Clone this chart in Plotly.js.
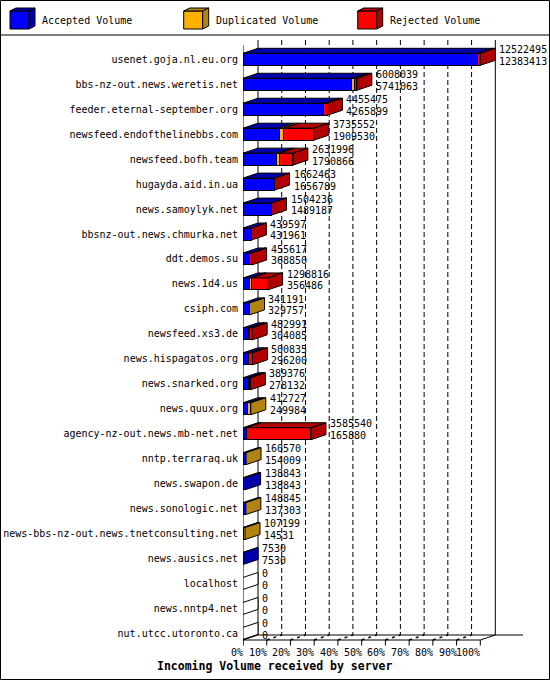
<!DOCTYPE html>
<html><head><meta charset="utf-8">
<script src="https://cdn.plot.ly/plotly-3.0.1.min.js"></script>
<style>html,body{margin:0;padding:0;background:#fff}</style>
</head><body><div id="chart" style="width:550px;height:680px"></div>
<script>
// ---------------- data ----------------
const categories = [
  'usenet.goja.nl.eu.org','bbs-nz-out.news.weretis.net','feeder.eternal-september.org',
  'newsfeed.endofthelinebbs.com','newsfeed.bofh.team','hugayda.aid.in.ua','news.samoylyk.net',
  'bbsnz-out.news.chmurka.net','ddt.demos.su','news.1d4.us','csiph.com','newsfeed.xs3.de',
  'news.hispagatos.org','news.snarked.org','news.quux.org','agency-nz-out.news.mb-net.net',
  'nntp.terraraq.uk','news.swapon.de','news.sonologic.net','news-bbs-nz-out.news.tnetconsulting.net',
  'news.ausics.net','localhost','news.nntp4.net','nut.utcc.utoronto.ca'
];
const totalVolume = [12522495,6008039,4455475,3735552,2631996,1662463,1504236,439597,455617,1298816,
  341191,482991,500835,389376,412727,3585540,160570,138843,148845,107199,7530,0,0,0];
const acceptedVolume = [12383413,5741063,4265899,1909530,1790866,1656789,1489187,431961,368850,356486,
  329757,304085,296200,278132,249984,165880,154009,138843,137303,14531,7530,0,0,0];
const duplicatedVolume = [0,140000,0,248000,140000,0,0,0,0,80000,
  11434,50000,0,60000,162743,0,6561,0,11542,92668,0,0,0,0];
const rejectedVolume = [139082,126976,189576,1578022,701130,5674,15049,7636,86767,862330,
  0,128906,204635,51244,0,3419660,0,0,0,0,0,0,0,0];
const tickPercents = [0,10,20,30,40,50,60,70,80,90,100];
const seriesNames = ['Accepted Volume','Duplicated Volume','Rejected Volume'];

// ---------------- geometry / style ----------------
const W=550,H=680,L=243,R=25,T=36,B=34;
const plotW=W-L-R, plotH=H-T-B;
const maxTotal=Math.max(...totalVolume);
const frontW=237.3;            // px of the 100% front width
const pxX=maxTotal/frontW;     // data units per px
const pitch=24.96;             // px per category
const r0=-(59.3-T)/pitch;
const r1=r0+plotH/pitch;
const yAt=p=>r0+(p-T)/pitch;
const DX=15*pxX, DY=5/pitch, HALF=0.24;
const FONT='DejaVu Sans Mono';
const colors=['#0000ff','#ffb000','#ff0000'];
const darks=['#0000aa','#b08412','#b00000'];
const px=p=>(p-L)/plotW, py=p=>(H-B-p)/plotH;

const idx=categories.map((c,i)=>i);
const seriesVals=[acceptedVolume,duplicatedVolume,rejectedVolume];

const traces=seriesVals.map((v,s)=>({
  type:'bar',orientation:'h',y:idx,x:v,width:2*HALF,name:seriesNames[s],
  marker:{color:colors[s],line:{color:'#000',width:1}},hoverinfo:'skip',showlegend:false
}));

const shapes=[];
const P=pts=>'M'+pts.map(p=>p[0]+','+p[1]).join(' L')+' Z';
// back wall gridlines (dashed)
tickPercents.forEach(k=>{
  const x=k/100*maxTotal;
  if(k>0&&k<100) shapes.push({type:'line',layer:'below',xref:'x',yref:'y',x0:x+DX,x1:x+DX,y0:yAt(40),y1:yAt(635),
    line:{color:'#000',width:1,dash:'5px,3px'}});
  // front ticks
  shapes.push({type:'line',xref:'x',yref:'y',x0:x,x1:x,y0:yAt(640),y1:yAt(645.5),line:{color:'#000',width:1}});
  if(k>0&&k<100) shapes.push({type:'line',xref:'x',yref:'y',x0:x,x1:x+DX,y0:yAt(640),y1:yAt(635),
    line:{color:'#000',width:1.5,dash:'3px,4px'}});
});
// frame
const LN=(x0,y0,x1,y1,layer)=>shapes.push({type:'line',layer:layer||'above',xref:'x',yref:'y',x0,y0,x1,y1,line:{color:'#000',width:1}});
LN(DX,yAt(40),DX,yAt(635),'below');
LN(maxTotal+DX,yAt(40),maxTotal+DX,yAt(635),'below');
LN(DX,yAt(635),(523-L)*pxX,yAt(635),'below');
LN(0,yAt(640),maxTotal,yAt(640));
LN(maxTotal,yAt(640),maxTotal+DX,yAt(635));
LN(0,yAt(640),DX,yAt(635));
LN(0,yAt(45),0,yAt(645.5));

// 3D faces of each bar
categories.forEach((c,i)=>{
  const yt=i-HALF, yb=i+HALF;
  let x=0, last=-1;
  seriesVals.forEach((v,s)=>{
    const w=v[i]; if(w>0){
      shapes.push({type:'path',xref:'x',yref:'y',fillcolor:darks[s],line:{color:'#000',width:1},
        path:P([[x,yt],[x+w,yt],[x+w+DX,yt-DY],[x+DX,yt-DY]])});
      x+=w; last=s;
    }
  });
  shapes.push({type:'path',xref:'x',yref:'y',fillcolor:last<0?'#ffffff':darks[last],line:{color:'#000',width:1},
    path:P([[x,yt],[x+DX,yt-DY],[x+DX,yb-DY],[x,yb]])});
});

// annotations
const annotations=[];
categories.forEach((c,i)=>{
  annotations.push({xref:'x',yref:'y',x:totalVolume[i],y:i,xanchor:'left',yanchor:'middle',xshift:17,yshift:9.8,
    text:String(totalVolume[i]),showarrow:false,font:{family:FONT,size:10,color:'#000'}});
  annotations.push({xref:'x',yref:'y',x:totalVolume[i],y:i,xanchor:'left',yanchor:'middle',xshift:17,yshift:-1.9,
    text:String(acceptedVolume[i]),showarrow:false,font:{family:FONT,size:10,color:'#000'}});
});
tickPercents.forEach(k=>{
  annotations.push({xref:'x',yref:'paper',x:k/100*maxTotal,y:py(652.5),xanchor:'right',yanchor:'middle',xshift:2,
    text:k+'%',showarrow:false,font:{family:FONT,size:10,color:'#000'}});
});
annotations.push({xref:'paper',yref:'paper',x:px(274),y:py(666),xanchor:'center',yanchor:'middle',
  text:'<b>Incoming Volume received by server</b>',showarrow:false,font:{family:FONT,size:11.5,color:'#000'}});

// legend (3D cubes)
[10,183.7,357.7].forEach((ox,s)=>{
  const f=[[ox,11],[ox+19,11],[ox+19,29],[ox,29]];
  const top=[[ox,11],[ox+19,11],[ox+25,8],[ox+6,8]];
  const side=[[ox+19,11],[ox+25,8],[ox+25,26],[ox+19,29]];
  [[f,colors[s]],[top,darks[s]],[side,darks[s]]].forEach(([pts,col])=>{
    shapes.push({type:'path',xref:'paper',yref:'paper',fillcolor:col,line:{color:'#000',width:1},
      path:P(pts.map(p=>[px(p[0]),py(p[1])]))});
  });
  annotations.push({xref:'paper',yref:'paper',x:px(ox+30),y:py(20),xanchor:'left',yanchor:'middle',
    text:seriesNames[s],showarrow:false,font:{family:FONT,size:10,color:'#000'}});
});
// outer border and legend separator
shapes.push({type:'rect',xref:'paper',yref:'paper',x0:px(0.5),x1:px(549.5),y0:py(0.5),y1:py(679.5),line:{color:'#000',width:1}});
shapes.push({type:'line',xref:'paper',yref:'paper',x0:px(0),x1:px(550),y0:py(35),y1:py(35),line:{color:'#000',width:1}});

const layout={
  width:W,height:H,margin:{l:L,r:R,t:T,b:B,pad:0},barmode:'stack',
  paper_bgcolor:'#fff',plot_bgcolor:'#fff',showlegend:false,
  xaxis:{range:[0,plotW*pxX],showgrid:false,zeroline:false,showline:false,showticklabels:false,ticks:'',fixedrange:true},
  yaxis:{range:[r1,r0],tickmode:'array',tickvals:idx,ticktext:categories,ticks:'',ticklabelstandoff:4,showgrid:false,zeroline:false,
    showline:false,tickfont:{family:FONT,size:10,color:'#000'},fixedrange:true},
  shapes,annotations
};
Plotly.newPlot('chart',traces,layout,{displayModeBar:false,staticPlot:true});
</script></body></html>
